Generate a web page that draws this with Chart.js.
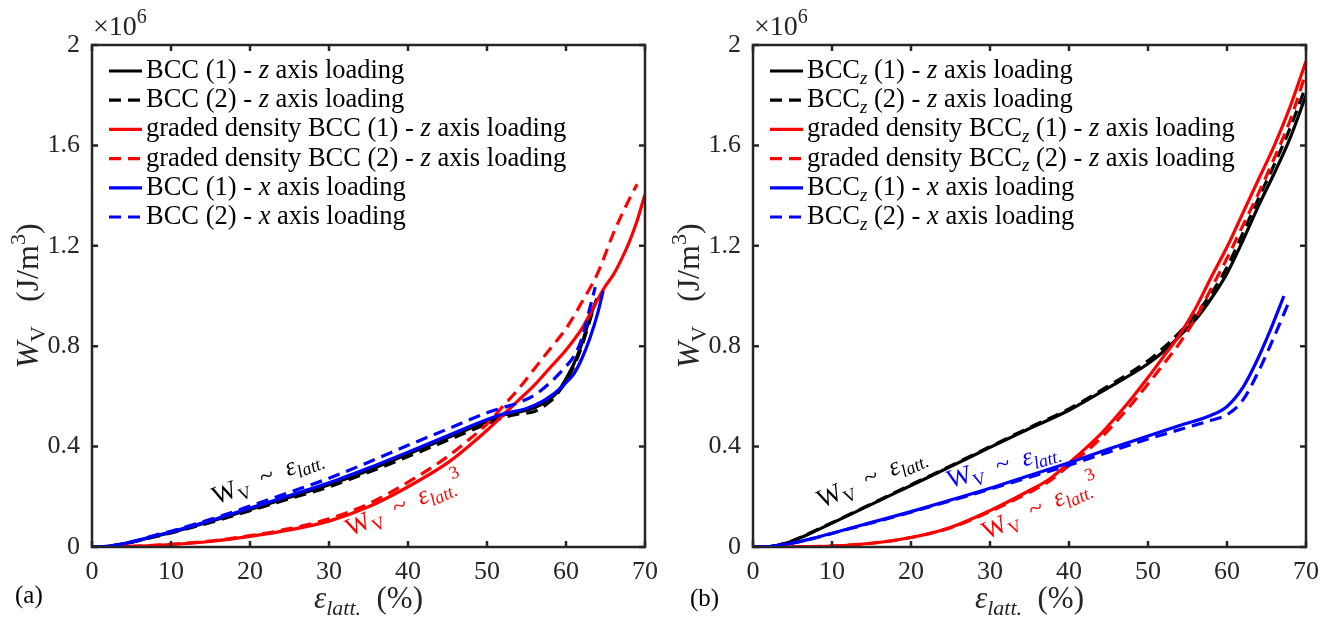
<!DOCTYPE html>
<html>
<head>
<meta charset="utf-8">
<script src="https://cdn.jsdelivr.net/npm/chart.js@4"></script>
<style>
  html, body { margin: 0; padding: 0; background: #fff; }
  #wrap { position: relative; width: 1343px; height: 619px; }
  .panel { position: absolute; top: 0; height: 619px; }
</style>
</head>
<body>
<div id="wrap">
  <div class="panel" style="left:0;width:671px"><canvas id="chartA"></canvas></div>
  <div class="panel" style="left:671px;width:672px"><canvas id="chartB"></canvas></div>
</div>
<script>
// axis ticks
const xTickValues = [0, 10, 20, 30, 40, 50, 60, 70];
const xTickLabels = ['0', '10', '20', '30', '40', '50', '60', '70'];
const yTickValues = [0, 0.4, 0.8, 1.2, 1.6, 2];
const yTickLabels = ['0', '0.4', '0.8', '1.2', '1.6', '2'];

// panel (a): strain (%) and energy (x 1e6 J/m^3)
const strainA_bcc1z = [0, 2, 4, 6, 8, 10, 15, 20, 25, 30, 35, 40, 45, 50, 52, 54, 56, 58, 59, 60, 61, 62, 63, 63.9];
const energyA_bcc1z = [0, 0.003, 0.012, 0.027, 0.043, 0.058, 0.102, 0.150, 0.198, 0.248, 0.305, 0.370, 0.435, 0.500, 0.525, 0.538, 0.555, 0.590, 0.620, 0.670, 0.730, 0.810, 0.910, 0.990];
const strainA_bcc2z = [0, 2, 4, 6, 8, 10, 15, 20, 25, 30, 35, 40, 45, 50, 52, 54, 56, 58, 59, 60, 61, 62, 63, 63.7];
const energyA_bcc2z = [0, 0.003, 0.012, 0.026, 0.041, 0.056, 0.098, 0.145, 0.192, 0.240, 0.298, 0.360, 0.425, 0.490, 0.515, 0.530, 0.540, 0.580, 0.615, 0.660, 0.720, 0.800, 0.900, 0.970];
const strainA_grad1z = [0, 5, 10, 15, 20, 25, 30, 35, 40, 45, 48, 50, 52, 54, 56, 58, 60, 62, 64, 65, 66, 67, 68, 69, 70];
const energyA_grad1z = [0, 0.003, 0.010, 0.022, 0.042, 0.068, 0.103, 0.160, 0.240, 0.335, 0.410, 0.465, 0.525, 0.585, 0.645, 0.715, 0.785, 0.870, 0.985, 1.040, 1.085, 1.145, 1.215, 1.300, 1.405];
const strainA_grad2z = [0, 5, 10, 15, 20, 25, 30, 35, 40, 45, 48, 50, 52, 54, 56, 58, 60, 62, 64, 66, 67, 68, 69];
const energyA_grad2z = [0, 0.003, 0.011, 0.024, 0.045, 0.073, 0.112, 0.172, 0.258, 0.360, 0.435, 0.490, 0.560, 0.630, 0.710, 0.790, 0.870, 0.975, 1.090, 1.250, 1.320, 1.385, 1.445];
const strainA_bcc1x = [0, 2, 4, 6, 8, 10, 15, 20, 25, 30, 35, 40, 45, 50, 52, 55, 57, 58, 59, 60, 61, 62, 63, 64, 64.7];
const energyA_bcc1x = [0, 0.003, 0.013, 0.028, 0.045, 0.060, 0.105, 0.155, 0.205, 0.256, 0.315, 0.378, 0.443, 0.508, 0.530, 0.552, 0.580, 0.600, 0.625, 0.655, 0.690, 0.750, 0.830, 0.930, 1.020];
const strainA_bcc2x = [0, 2, 4, 6, 8, 10, 15, 20, 25, 30, 35, 40, 45, 50, 52, 54, 56, 58, 60, 61, 62, 63, 63.7];
const energyA_bcc2x = [0, 0.003, 0.013, 0.029, 0.047, 0.063, 0.110, 0.163, 0.218, 0.274, 0.338, 0.405, 0.470, 0.535, 0.555, 0.575, 0.605, 0.655, 0.720, 0.760, 0.830, 0.950, 1.035];

// panel (b)
const strainB_bcc1z = [0, 2, 3, 4, 5, 7.5, 10, 15, 20, 25, 30, 35, 40, 45, 50, 52, 54, 56, 58, 60, 62, 64, 66, 68, 70];
const energyB_bcc1z = [0, 0.001, 0.006, 0.014, 0.024, 0.058, 0.095, 0.170, 0.245, 0.320, 0.397, 0.472, 0.545, 0.635, 0.730, 0.780, 0.840, 0.905, 0.990, 1.090, 1.220, 1.360, 1.490, 1.630, 1.800];
const strainB_bcc2z = [0, 2, 3, 4, 5, 7.5, 10, 15, 20, 25, 30, 35, 40, 45, 50, 52, 54, 56, 58, 60, 62, 64, 66, 68, 69.8];
const energyB_bcc2z = [0, 0.001, 0.006, 0.015, 0.025, 0.060, 0.097, 0.172, 0.248, 0.323, 0.400, 0.476, 0.550, 0.642, 0.742, 0.795, 0.855, 0.925, 1.010, 1.115, 1.250, 1.390, 1.525, 1.670, 1.820];
const strainB_grad1z = [0, 5, 10, 15, 20, 25, 30, 35, 37.5, 40, 42, 44, 46, 48, 50, 52, 54, 56, 58, 60, 62, 64, 66, 68, 70];
const energyB_grad1z = [0, 0.001, 0.004, 0.015, 0.038, 0.078, 0.145, 0.225, 0.270, 0.335, 0.390, 0.450, 0.520, 0.595, 0.675, 0.760, 0.845, 0.950, 1.075, 1.195, 1.330, 1.465, 1.600, 1.755, 1.935];
const strainB_grad2z = [0, 5, 10, 15, 20, 25, 30, 35, 37.5, 40, 42, 44, 46, 48, 50, 52, 54, 56, 58, 60, 62, 64, 66, 68, 70];
const energyB_grad2z = [0, 0.001, 0.004, 0.015, 0.038, 0.077, 0.141, 0.218, 0.262, 0.325, 0.375, 0.433, 0.500, 0.572, 0.650, 0.730, 0.812, 0.910, 1.030, 1.150, 1.280, 1.410, 1.550, 1.700, 1.890];
const strainB_bcc1x = [0, 2, 4, 6, 8, 10, 15, 20, 25, 30, 35, 40, 45, 50, 54, 58, 60, 62, 63.6, 65.5, 67.2];
const energyB_bcc1x = [0, 0.002, 0.010, 0.022, 0.038, 0.055, 0.098, 0.141, 0.187, 0.234, 0.285, 0.336, 0.390, 0.442, 0.484, 0.525, 0.560, 0.635, 0.730, 0.865, 1.000];
const strainB_bcc2x = [0, 2, 4, 6, 8, 10, 15, 20, 25, 30, 35, 40, 45, 50, 55, 58, 60, 62, 64, 66, 67.7];
const energyB_bcc2x = [0, 0.002, 0.010, 0.022, 0.037, 0.054, 0.096, 0.139, 0.184, 0.230, 0.278, 0.326, 0.378, 0.430, 0.477, 0.505, 0.527, 0.585, 0.700, 0.840, 0.966];

const FONT = '"Liberation Serif", "Times New Roman", serif';
const BLACK = '#000000', RED = '#ff0000', BLUE = '#0000ff', AXIS = '#262626';
Chart.defaults.font.family = FONT;

// draws text made of pieces: r = roman, i = italic, sub/isub = subscript, sup = superscript
function richText(ctx, segs, x, y, size, draw) {
    let cx = x;
    for (const [t, st] of segs) {
        const small = st === 'sub' || st === 'isub' || st === 'sup';
        const italic = st === 'i' || st === 'isub';
        const fs = small ? Math.round(size * 0.7) : size;
        ctx.font = (italic ? 'italic ' : '') + fs + 'px ' + FONT;
        const dy = (st === 'sub' || st === 'isub') ? size * 0.22 : (st === 'sup' ? -size * 0.42 : 0);
        if (draw !== false) ctx.fillText(t, cx, y + dy);
        cx += ctx.measureText(t).width;
    }
    return cx - x;
}

function series(xs, ys, color, dashed, order) {
    return {
        data: xs.map((x, i) => ({ x: x, y: ys[i] })),
        borderColor: color,
        borderWidth: 3.2,
        borderDash: dashed ? [12, 7] : [],
        pointRadius: 0,
        fill: false,
        cubicInterpolationMode: 'monotone',
        order: order
    };
}

// legend, notes, box and inward ticks, titles
function makeDecor(cfg) {
    return {
        id: 'decor' + cfg.tag,
        afterDraw(chart) {
            const ctx = chart.ctx;
            const a = chart.chartArea;
            const sx = chart.scales.x, sy = chart.scales.y;
            ctx.save();
            ctx.textBaseline = 'alphabetic';
            ctx.textAlign = 'left';

            // legend
            cfg.legend.forEach((item, i) => {
                const rowY = 71 + i * 29.2;
                ctx.strokeStyle = item.color;
                ctx.lineWidth = 3.2;
                ctx.setLineDash(item.dashed ? [12, 7] : []);
                ctx.beginPath();
                ctx.moveTo(a.left + 17, rowY);
                ctx.lineTo(a.left + 50, rowY);
                ctx.stroke();
                ctx.setLineDash([]);
                ctx.fillStyle = '#000';
                richText(ctx, item.text, a.left + 54, rowY + 7, 26.5);
            });

            // slope notes
            cfg.notes.forEach(n => {
                ctx.save();
                ctx.translate(sx.getPixelForValue(n.x), sy.getPixelForValue(n.y));
                ctx.rotate(n.angle * Math.PI / 180);
                ctx.fillStyle = n.color;
                richText(ctx, n.text, 0, 0, 26);
                ctx.restore();
            });

            // box and inward ticks
            ctx.strokeStyle = AXIS;
            ctx.lineWidth = 2.5;
            ctx.strokeRect(a.left, a.top, a.right - a.left, a.bottom - a.top);
            ctx.beginPath();
            xTickValues.forEach(v => {
                const px = sx.getPixelForValue(v);
                ctx.moveTo(px, a.bottom); ctx.lineTo(px, a.bottom - 6);
                ctx.moveTo(px, a.top); ctx.lineTo(px, a.top + 6);
            });
            yTickValues.forEach(v => {
                const py = sy.getPixelForValue(v);
                ctx.moveTo(a.left, py); ctx.lineTo(a.left + 6, py);
                ctx.moveTo(a.right, py); ctx.lineTo(a.right - 6, py);
            });
            ctx.stroke();

            // exponent
            ctx.fillStyle = AXIS;
            richText(ctx, [['\u00d710', 'r'], ['6', 'sup']], a.left + 1, a.top - 10, 28);

            // x title
            const xt = [['\u03b5', 'i'], ['latt.', 'isub'], ['  (%)', 'r']];
            const xw = richText(ctx, xt, 0, 0, 31, false);
            richText(ctx, xt, (a.left + a.right) / 2 - xw / 2, 608, 31);

            // y title
            const yt = [['W', 'i'], ['V', 'sub'], ['   (J/m', 'r'], ['3', 'sup'], [')', 'r']];
            const yw = richText(ctx, yt, 0, 0, 32, false);
            ctx.save();
            ctx.translate(cfg.yTitleX, (a.top + a.bottom) / 2);
            ctx.rotate(-Math.PI / 2);
            richText(ctx, yt, -yw / 2, 0, 32);
            ctx.restore();

            // panel tag
            ctx.fillStyle = '#000';
            ctx.font = '25px ' + FONT;
            ctx.fillText(cfg.tag, cfg.tagX, cfg.tagY);
            ctx.restore();
        }
    };
}

function makePanel(id, datasets, decor, yWidth, padRight) {
    return new Chart(document.getElementById(id), {
        type: 'line',
        data: { datasets: datasets },
        options: {
            responsive: true,
            maintainAspectRatio: false,
            animation: false,
            layout: { padding: { left: 0, right: padRight, top: 45, bottom: 0 } },
            plugins: { legend: { display: false }, tooltip: { enabled: false } },
            scales: {
                x: {
                    type: 'linear', min: 0, max: 70,
                    grid: { display: false, drawTicks: false },
                    border: { display: false },
                    afterBuildTicks: s => { s.ticks = xTickValues.map(v => ({ value: v })); },
                    afterFit: s => { s.height = 72; },
                    ticks: {
                        padding: 10, color: AXIS, maxRotation: 0, autoSkip: false,
                        font: { family: FONT, size: 26 },
                        callback: (v, i) => xTickLabels[i]
                    }
                },
                y: {
                    type: 'linear', min: 0, max: 2,
                    grid: { display: false, drawTicks: false },
                    border: { display: false },
                    afterBuildTicks: s => { s.ticks = yTickValues.map(v => ({ value: v })); },
                    afterFit: s => { s.width = yWidth; },
                    ticks: {
                        padding: 12, color: AXIS, autoSkip: false,
                        font: { family: FONT, size: 26 },
                        callback: (v, i) => yTickLabels[i]
                    }
                }
            }
        },
        plugins: [decor]
    });
}

const zr = ' axis loading';
const linNote = [['W', 'r'], ['V', 'sub'], ['  ~  ', 'r'], ['\u03b5', 'i'], ['latt.', 'isub']];
const cubNote = linNote.concat([['3', 'sup']]);

makePanel('chartA', [
    series(strainA_bcc1z, energyA_bcc1z, BLACK, false, 6),
    series(strainA_bcc2z, energyA_bcc2z, BLACK, true, 5),
    series(strainA_grad1z, energyA_grad1z, RED, false, 4),
    series(strainA_grad2z, energyA_grad2z, RED, true, 3),
    series(strainA_bcc1x, energyA_bcc1x, BLUE, false, 2),
    series(strainA_bcc2x, energyA_bcc2x, BLUE, true, 1)
], makeDecor({
    tag: '(a)', tagX: 15, tagY: 603, yTitleX: 38,
    legend: [
        { color: BLACK, dashed: false, text: [['BCC (1) - ', 'r'], ['z', 'i'], [zr, 'r']] },
        { color: BLACK, dashed: true, text: [['BCC (2) - ', 'r'], ['z', 'i'], [zr, 'r']] },
        { color: RED, dashed: false, text: [['graded density BCC (1) - ', 'r'], ['z', 'i'], [zr, 'r']] },
        { color: RED, dashed: true, text: [['graded density BCC (2) - ', 'r'], ['z', 'i'], [zr, 'r']] },
        { color: BLUE, dashed: false, text: [['BCC (1) - ', 'r'], ['x', 'i'], [zr, 'r']] },
        { color: BLUE, dashed: true, text: [['BCC (2) - ', 'r'], ['x', 'i'], [zr, 'r']] }
    ],
    notes: [
        { x: 15.7, y: 0.168, angle: -21.5, color: BLACK, text: linNote },
        { x: 32.7, y: 0.041, angle: -24, color: RED, text: cubNote }
    ]
}), 92, 26);

makePanel('chartB', [
    series(strainB_bcc1z, energyB_bcc1z, BLACK, false, 6),
    series(strainB_bcc2z, energyB_bcc2z, BLACK, true, 5),
    series(strainB_grad1z, energyB_grad1z, RED, false, 4),
    series(strainB_grad2z, energyB_grad2z, RED, true, 3),
    series(strainB_bcc1x, energyB_bcc1x, BLUE, false, 2),
    series(strainB_bcc2x, energyB_bcc2x, BLUE, true, 1)
], makeDecor({
    tag: '(b)', tagX: 19, tagY: 606, yTitleX: 28,
    legend: [
        { color: BLACK, dashed: false, text: [['BCC', 'r'], ['z', 'isub'], [' (1) - ', 'r'], ['z', 'i'], [zr, 'r']] },
        { color: BLACK, dashed: true, text: [['BCC', 'r'], ['z', 'isub'], [' (2) - ', 'r'], ['z', 'i'], [zr, 'r']] },
        { color: RED, dashed: false, text: [['graded density BCC', 'r'], ['z', 'isub'], [' (1) - ', 'r'], ['z', 'i'], [zr, 'r']] },
        { color: RED, dashed: true, text: [['graded density BCC', 'r'], ['z', 'isub'], [' (2) - ', 'r'], ['z', 'i'], [zr, 'r']] },
        { color: BLUE, dashed: false, text: [['BCC', 'r'], ['z', 'isub'], [' (1) - ', 'r'], ['x', 'i'], [zr, 'r']] },
        { color: BLUE, dashed: true, text: [['BCC', 'r'], ['z', 'isub'], [' (2) - ', 'r'], ['x', 'i'], [zr, 'r']] }
    ],
    notes: [
        { x: 8.7, y: 0.154, angle: -24.3, color: BLACK, text: linNote },
        { x: 24.9, y: 0.234, angle: -16.3, color: BLUE, text: linNote },
        { x: 29.6, y: 0.028, angle: -24.7, color: RED, text: cubNote }
    ]
}), 82, 37);
</script>
</body>
</html>
